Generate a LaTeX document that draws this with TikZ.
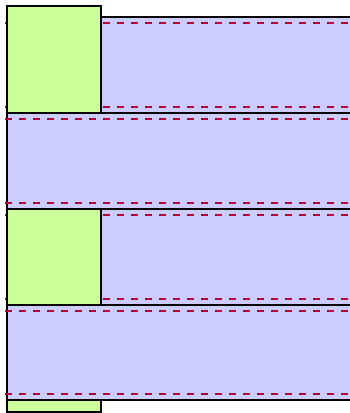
\documentclass[tikz,border=0pt]{standalone}
\definecolor{bandblue}{HTML}{CCCCFF}
\definecolor{blockgreen}{HTML}{CCFF99}
\definecolor{guardred}{HTML}{B0003A}
\usepackage{tikz}
\begin{document}
\begin{tikzpicture}[x=1pt, y=-1pt,
  band/.style={fill=bandblue, draw=black, line width=2pt},
  block/.style={fill=blockgreen, draw=black, line width=2pt},
  guard/.style={draw=guardred, line width=1.8pt, dash pattern=on 7pt off 7pt}]
\useasboundingbox (0,0) rectangle (350,413);
\clip (0,0) rectangle (350,413);
% bands with guard lines
\foreach \btop/\bbot in {17/113, 113/209, 209/305, 305/400} {
  \draw[band] (360,\btop) -- (7,\btop) -- (7,\bbot) -- (360,\bbot);
  \draw[guard] (5,\btop+6) -- (360,\btop+6);
  \draw[guard] (5,\bbot-6) -- (360,\bbot-6);
}
% green blocks on top
\draw[block] (7,6) rectangle (101,113);
\draw[block] (7,209) rectangle (101,305);
\draw[block] (7,400) rectangle (101,411.5);
\end{tikzpicture}
\end{document}
